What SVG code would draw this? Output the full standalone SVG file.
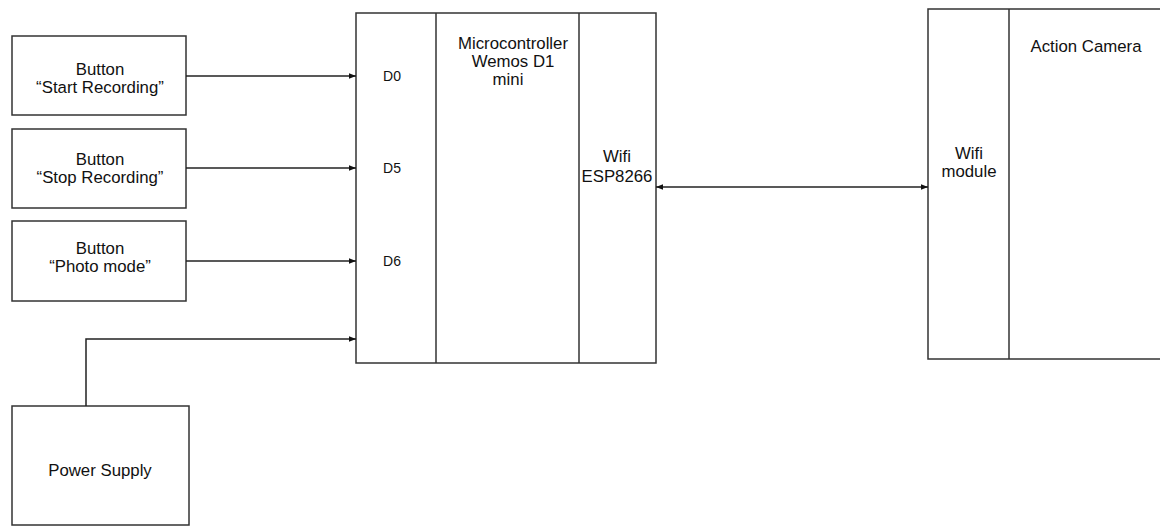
<svg xmlns="http://www.w3.org/2000/svg" width="1160" height="527" viewBox="0 0 1160 527">
<style>
.box{fill:#fff;stroke:#333;stroke-width:1.5}
.div{stroke:#333;stroke-width:1.5}
.t{font-family:"Liberation Sans",Arial,sans-serif;font-size:16.8px;fill:#111;text-anchor:middle}
.s{font-size:14px}
.c{fill:none;stroke:#222;stroke-width:1.5}
</style>
<defs>
<marker id="ah" viewBox="0 0 10 10" refX="10" refY="5" markerWidth="7" markerHeight="7" markerUnits="userSpaceOnUse" orient="auto-start-reverse">
<path d="M0,1 L10,5 L0,9 z" fill="#111"/>
</marker>
</defs>
<rect width="1160" height="527" fill="#fff"/>
<g id="btn-start">
<rect class="box" x="12" y="36" width="174" height="79"/>
<text class="t" x="100" y="75">Button</text>
<text class="t" x="100" y="93">“Start Recording”</text>
</g>
<g id="btn-stop">
<rect class="box" x="12" y="129" width="174" height="79"/>
<text class="t" x="100" y="165">Button</text>
<text class="t" x="100" y="183">“Stop Recording”</text>
</g>
<g id="btn-photo">
<rect class="box" x="12" y="221" width="174" height="80"/>
<text class="t" x="100" y="254">Button</text>
<text class="t" x="100" y="272">“Photo mode”</text>
</g>
<g id="power">
<rect class="box" x="12" y="406" width="177" height="119"/>
<text class="t" x="100" y="476">Power Supply</text>
</g>
<g id="mcu">
<rect class="box" x="356" y="13" width="300" height="350"/>
<line class="div" x1="436" y1="13" x2="436" y2="363"/>
<line class="div" x1="579" y1="13" x2="579" y2="363"/>
<text class="t s" x="392" y="81">D0</text>
<text class="t s" x="392" y="173">D5</text>
<text class="t s" x="392" y="266">D6</text>
<text class="t" x="513" y="49">Microcontroller</text>
<text class="t" x="513" y="67">Wemos D1</text>
<text class="t" x="508" y="85">mini</text>
<text class="t" x="617" y="162">Wifi</text>
<text class="t" x="617" y="182">ESP8266</text>
</g>
<g id="camera">
<rect class="box" x="928" y="9" width="240" height="350"/>
<line class="div" x1="1009" y1="9" x2="1009" y2="359"/>
<text class="t" x="969" y="159">Wifi</text>
<text class="t" x="969" y="177">module</text>
<text class="t" x="1086" y="52">Action Camera</text>
</g>
<g id="connectors">
<line class="c" x1="186" y1="76" x2="356" y2="76" marker-end="url(#ah)"/>
<line class="c" x1="186" y1="168" x2="356" y2="168" marker-end="url(#ah)"/>
<line class="c" x1="186" y1="261" x2="356" y2="261" marker-end="url(#ah)"/>
<polyline class="c" points="86,406 86,339 356,339" marker-end="url(#ah)"/>
<line class="c" x1="656" y1="187" x2="928" y2="187" marker-start="url(#ah)" marker-end="url(#ah)"/>
</g>
</svg>
